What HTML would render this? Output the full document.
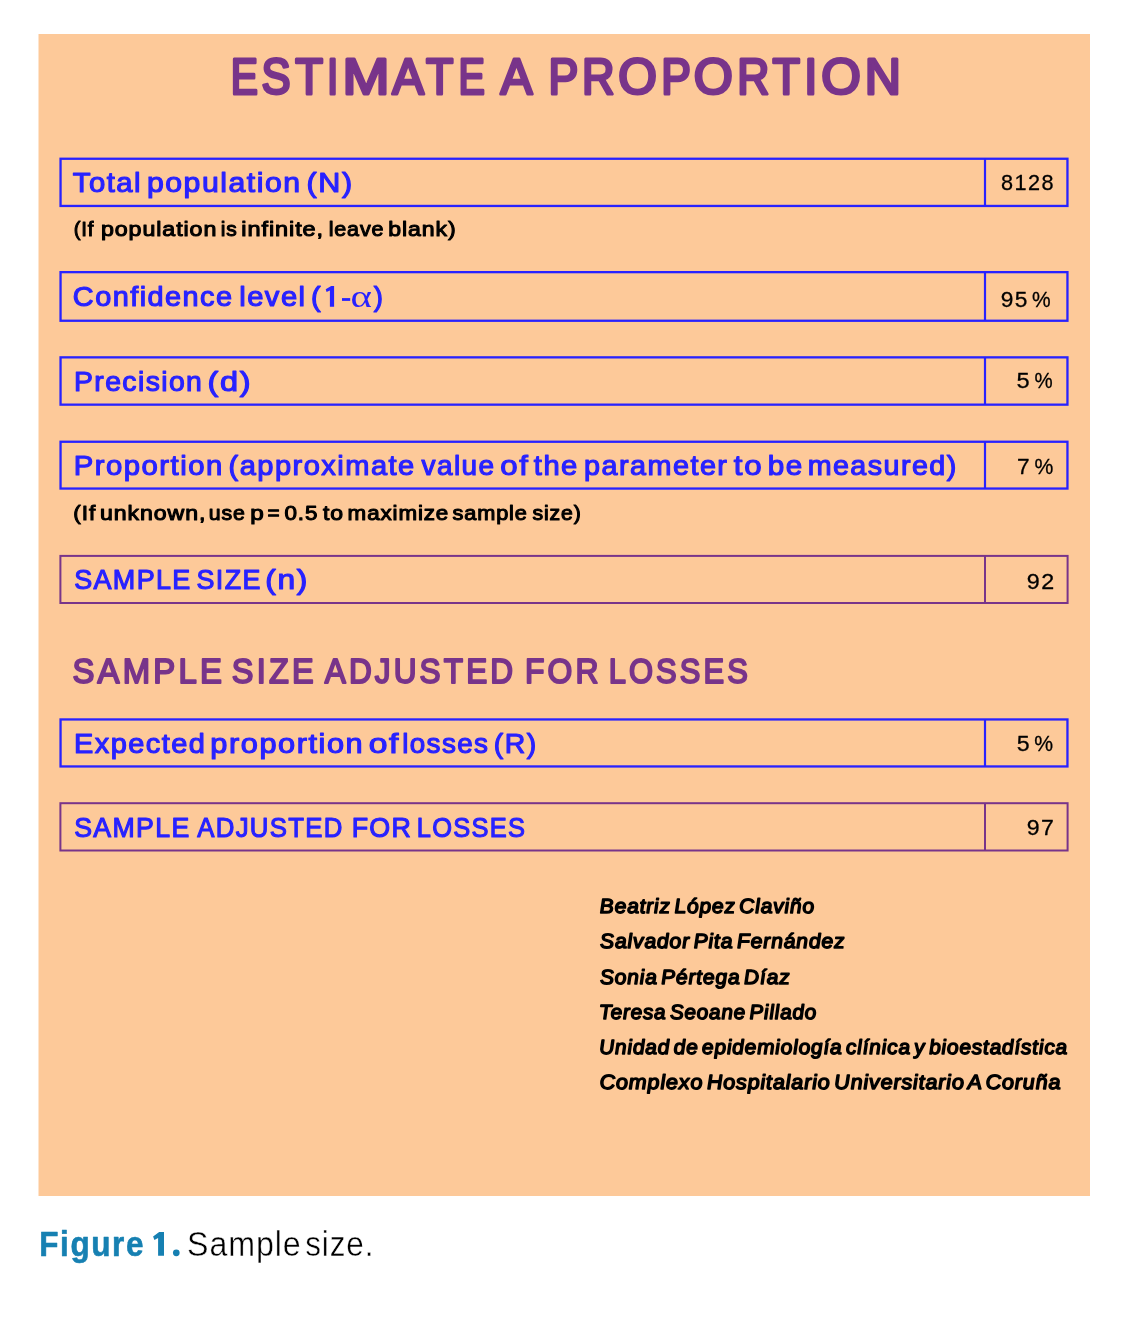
<!DOCTYPE html><html><head><meta charset="utf-8"><style>html,body{margin:0;padding:0;background:#fff;overflow:hidden}svg{display:block;will-change:transform}</style></head><body>
<svg width="1138" height="1326" viewBox="0 0 1138 1326">
<rect x="38.5" y="34" width="1051.5" height="1162" fill="#fdc999"/>
<rect x="60.55" y="158.75" width="1006.90" height="47.20" fill="none" stroke="#2822ff" stroke-width="2.3"/>
<line x1="985" y1="158.75" x2="985" y2="205.95" stroke="#2822ff" stroke-width="2.2"/>
<rect x="60.55" y="272.15" width="1006.90" height="48.60" fill="none" stroke="#2822ff" stroke-width="2.3"/>
<line x1="985" y1="272.15" x2="985" y2="320.75" stroke="#2822ff" stroke-width="2.2"/>
<rect x="60.55" y="357.35" width="1006.90" height="47.30" fill="none" stroke="#2822ff" stroke-width="2.3"/>
<line x1="985" y1="357.35" x2="985" y2="404.65" stroke="#2822ff" stroke-width="2.2"/>
<rect x="60.55" y="441.75" width="1006.90" height="46.80" fill="none" stroke="#2822ff" stroke-width="2.3"/>
<line x1="985" y1="441.75" x2="985" y2="488.55" stroke="#2822ff" stroke-width="2.2"/>
<rect x="60.40" y="555.90" width="1007.20" height="47.10" fill="none" stroke="#78348a" stroke-width="2.0"/>
<line x1="985" y1="555.90" x2="985" y2="603.00" stroke="#78348a" stroke-width="2.0"/>
<rect x="60.55" y="719.45" width="1006.90" height="47.00" fill="none" stroke="#2822ff" stroke-width="2.3"/>
<line x1="985" y1="719.45" x2="985" y2="766.45" stroke="#2822ff" stroke-width="2.2"/>
<rect x="60.40" y="803.20" width="1007.20" height="47.30" fill="none" stroke="#78348a" stroke-width="2.0"/>
<line x1="985" y1="803.20" x2="985" y2="850.50" stroke="#78348a" stroke-width="2.0"/>
<text x="230.81" y="94.40" font-family="Liberation Sans" font-weight="normal" font-style="normal" font-size="49.273" fill="#78348a" stroke="#78348a" stroke-width="3.0" stroke-linejoin="round" word-spacing="0" letter-spacing="0" textLength="27.18" lengthAdjust="spacingAndGlyphs" xml:space="preserve">E</text>
<text x="261.46" y="94.40" font-family="Liberation Sans" font-weight="normal" font-style="normal" font-size="49.273" fill="#78348a" stroke="#78348a" stroke-width="3.0" stroke-linejoin="round" word-spacing="0" letter-spacing="0" textLength="29.06" lengthAdjust="spacingAndGlyphs" xml:space="preserve">S</text>
<text x="295.13" y="94.40" font-family="Liberation Sans" font-weight="normal" font-style="normal" font-size="49.273" fill="#78348a" stroke="#78348a" stroke-width="3.0" stroke-linejoin="round" word-spacing="0" letter-spacing="0" textLength="27.77" lengthAdjust="spacingAndGlyphs" xml:space="preserve">T</text>
<text x="327.05" y="94.40" font-family="Liberation Sans" font-weight="normal" font-style="normal" font-size="49.273" fill="#78348a" stroke="#78348a" stroke-width="3.0" stroke-linejoin="round" word-spacing="0" letter-spacing="0" textLength="11.30" lengthAdjust="spacingAndGlyphs" xml:space="preserve">I</text>
<text x="342.41" y="94.40" font-family="Liberation Sans" font-weight="normal" font-style="normal" font-size="49.273" fill="#78348a" stroke="#78348a" stroke-width="3.0" stroke-linejoin="round" word-spacing="0" letter-spacing="0" textLength="46.96" lengthAdjust="spacingAndGlyphs" xml:space="preserve">M</text>
<text x="392.29" y="94.40" font-family="Liberation Sans" font-weight="normal" font-style="normal" font-size="49.273" fill="#78348a" stroke="#78348a" stroke-width="3.0" stroke-linejoin="round" word-spacing="0" letter-spacing="0" textLength="31.74" lengthAdjust="spacingAndGlyphs" xml:space="preserve">A</text>
<text x="426.05" y="94.40" font-family="Liberation Sans" font-weight="normal" font-style="normal" font-size="49.273" fill="#78348a" stroke="#78348a" stroke-width="3.0" stroke-linejoin="round" word-spacing="0" letter-spacing="0" textLength="27.32" lengthAdjust="spacingAndGlyphs" xml:space="preserve">T</text>
<text x="458.51" y="94.40" font-family="Liberation Sans" font-weight="normal" font-style="normal" font-size="49.273" fill="#78348a" stroke="#78348a" stroke-width="3.0" stroke-linejoin="round" word-spacing="0" letter-spacing="0" textLength="26.38" lengthAdjust="spacingAndGlyphs" xml:space="preserve">E</text>
<text x="500.62" y="94.40" font-family="Liberation Sans" font-weight="normal" font-style="normal" font-size="49.273" fill="#78348a" stroke="#78348a" stroke-width="3.0" stroke-linejoin="round" word-spacing="0" letter-spacing="0" textLength="31.90" lengthAdjust="spacingAndGlyphs" xml:space="preserve">A</text>
<text x="548.60" y="94.40" font-family="Liberation Sans" font-weight="normal" font-style="normal" font-size="49.273" fill="#78348a" stroke="#78348a" stroke-width="3.0" stroke-linejoin="round" word-spacing="0" letter-spacing="0" textLength="29.78" lengthAdjust="spacingAndGlyphs" xml:space="preserve">P</text>
<text x="582.08" y="94.40" font-family="Liberation Sans" font-weight="normal" font-style="normal" font-size="49.273" fill="#78348a" stroke="#78348a" stroke-width="3.0" stroke-linejoin="round" word-spacing="0" letter-spacing="0" textLength="32.47" lengthAdjust="spacingAndGlyphs" xml:space="preserve">R</text>
<text x="618.16" y="94.40" font-family="Liberation Sans" font-weight="normal" font-style="normal" font-size="49.273" fill="#78348a" stroke="#78348a" stroke-width="3.0" stroke-linejoin="round" word-spacing="0" letter-spacing="0" textLength="38.61" lengthAdjust="spacingAndGlyphs" xml:space="preserve">O</text>
<text x="661.18" y="94.40" font-family="Liberation Sans" font-weight="normal" font-style="normal" font-size="49.273" fill="#78348a" stroke="#78348a" stroke-width="3.0" stroke-linejoin="round" word-spacing="0" letter-spacing="0" textLength="29.59" lengthAdjust="spacingAndGlyphs" xml:space="preserve">P</text>
<text x="693.69" y="94.40" font-family="Liberation Sans" font-weight="normal" font-style="normal" font-size="49.273" fill="#78348a" stroke="#78348a" stroke-width="3.0" stroke-linejoin="round" word-spacing="0" letter-spacing="0" textLength="39.05" lengthAdjust="spacingAndGlyphs" xml:space="preserve">O</text>
<text x="737.24" y="94.40" font-family="Liberation Sans" font-weight="normal" font-style="normal" font-size="49.273" fill="#78348a" stroke="#78348a" stroke-width="3.0" stroke-linejoin="round" word-spacing="0" letter-spacing="0" textLength="32.08" lengthAdjust="spacingAndGlyphs" xml:space="preserve">R</text>
<text x="772.53" y="94.40" font-family="Liberation Sans" font-weight="normal" font-style="normal" font-size="49.273" fill="#78348a" stroke="#78348a" stroke-width="3.0" stroke-linejoin="round" word-spacing="0" letter-spacing="0" textLength="27.48" lengthAdjust="spacingAndGlyphs" xml:space="preserve">T</text>
<text x="804.24" y="94.40" font-family="Liberation Sans" font-weight="normal" font-style="normal" font-size="49.273" fill="#78348a" stroke="#78348a" stroke-width="3.0" stroke-linejoin="round" word-spacing="0" letter-spacing="0" textLength="13.05" lengthAdjust="spacingAndGlyphs" xml:space="preserve">I</text>
<text x="821.38" y="94.40" font-family="Liberation Sans" font-weight="normal" font-style="normal" font-size="49.273" fill="#78348a" stroke="#78348a" stroke-width="3.0" stroke-linejoin="round" word-spacing="0" letter-spacing="0" textLength="39.55" lengthAdjust="spacingAndGlyphs" xml:space="preserve">O</text>
<text x="864.79" y="94.40" font-family="Liberation Sans" font-weight="normal" font-style="normal" font-size="49.273" fill="#78348a" stroke="#78348a" stroke-width="3.0" stroke-linejoin="round" word-spacing="0" letter-spacing="0" textLength="36.17" lengthAdjust="spacingAndGlyphs" xml:space="preserve">N</text>
<text x="72.84" y="192.23" font-family="Liberation Sans" font-weight="normal" font-style="normal" font-size="27.834" fill="#2822ff" stroke="#2822ff" stroke-width="1.15" stroke-linejoin="round" word-spacing="0" letter-spacing="1.4" textLength="69.15" lengthAdjust="spacingAndGlyphs" xml:space="preserve">Total</text>
<text x="146.96" y="192.23" font-family="Liberation Sans" font-weight="normal" font-style="normal" font-size="27.834" fill="#2822ff" stroke="#2822ff" stroke-width="1.15" stroke-linejoin="round" word-spacing="0" letter-spacing="1.4" textLength="154.63" lengthAdjust="spacingAndGlyphs" xml:space="preserve">population</text>
<text x="306.58" y="192.23" font-family="Liberation Sans" font-weight="normal" font-style="normal" font-size="27.834" fill="#2822ff" stroke="#2822ff" stroke-width="1.15" stroke-linejoin="round" word-spacing="0" letter-spacing="1.4" textLength="47.03" lengthAdjust="spacingAndGlyphs" xml:space="preserve">(N)</text>
<text x="1000.93" y="189.65" font-family="Liberation Sans" font-weight="normal" font-style="normal" font-size="22.158" fill="#000000" stroke="#000000" stroke-width="0.3" stroke-linejoin="round" word-spacing="0" letter-spacing="1.5" textLength="54.07" lengthAdjust="spacingAndGlyphs" xml:space="preserve">8128</text>
<text x="73.67" y="236.28" font-family="Liberation Sans" font-weight="normal" font-style="normal" font-size="20.567" fill="#000000" stroke="#000000" stroke-width="1.05" stroke-linejoin="round" word-spacing="-1.5" letter-spacing="0.8" textLength="20.58" lengthAdjust="spacingAndGlyphs" xml:space="preserve">(If</text>
<text x="100.96" y="236.28" font-family="Liberation Sans" font-weight="normal" font-style="normal" font-size="20.567" fill="#000000" stroke="#000000" stroke-width="1.05" stroke-linejoin="round" word-spacing="-1.5" letter-spacing="0.8" textLength="116.32" lengthAdjust="spacingAndGlyphs" xml:space="preserve">population</text>
<text x="220.69" y="236.28" font-family="Liberation Sans" font-weight="normal" font-style="normal" font-size="20.567" fill="#000000" stroke="#000000" stroke-width="1.05" stroke-linejoin="round" word-spacing="-1.5" letter-spacing="0.8" textLength="16.79" lengthAdjust="spacingAndGlyphs" xml:space="preserve">is</text>
<text x="241.33" y="236.28" font-family="Liberation Sans" font-weight="normal" font-style="normal" font-size="20.567" fill="#000000" stroke="#000000" stroke-width="1.05" stroke-linejoin="round" word-spacing="-1.5" letter-spacing="0.8" textLength="82.71" lengthAdjust="spacingAndGlyphs" xml:space="preserve">infinite,</text>
<text x="328.68" y="236.28" font-family="Liberation Sans" font-weight="normal" font-style="normal" font-size="20.567" fill="#000000" stroke="#000000" stroke-width="1.05" stroke-linejoin="round" word-spacing="-1.5" letter-spacing="0.8" textLength="55.61" lengthAdjust="spacingAndGlyphs" xml:space="preserve">leave</text>
<text x="388.32" y="236.28" font-family="Liberation Sans" font-weight="normal" font-style="normal" font-size="20.567" fill="#000000" stroke="#000000" stroke-width="1.05" stroke-linejoin="round" word-spacing="-1.5" letter-spacing="0.8" textLength="68.26" lengthAdjust="spacingAndGlyphs" xml:space="preserve">blank)</text>
<text x="72.88" y="306.12" font-family="Liberation Sans" font-weight="normal" font-style="normal" font-size="27.834" fill="#2822ff" stroke="#2822ff" stroke-width="1.15" stroke-linejoin="round" word-spacing="0" letter-spacing="1.4" textLength="160.54" lengthAdjust="spacingAndGlyphs" xml:space="preserve">Confidence</text>
<text x="239.23" y="306.12" font-family="Liberation Sans" font-weight="normal" font-style="normal" font-size="27.834" fill="#2822ff" stroke="#2822ff" stroke-width="1.15" stroke-linejoin="round" word-spacing="0" letter-spacing="1.4" textLength="67.32" lengthAdjust="spacingAndGlyphs" xml:space="preserve">level</text>
<text x="311.10" y="306.12" font-family="Liberation Sans" font-weight="normal" font-style="normal" font-size="27.834" fill="#2822ff" stroke="#2822ff" stroke-width="1.15" stroke-linejoin="round" word-spacing="0" letter-spacing="1.4" textLength="11.11" lengthAdjust="spacingAndGlyphs" xml:space="preserve">(</text>
<text x="350.42" y="306.70" font-family="Liberation Serif" font-weight="normal" font-style="normal" font-size="32.627" fill="#2822ff" word-spacing="0" letter-spacing="0" textLength="21.35" lengthAdjust="spacingAndGlyphs" xml:space="preserve">α</text>
<text x="373.66" y="306.12" font-family="Liberation Sans" font-weight="normal" font-style="normal" font-size="27.834" fill="#2822ff" stroke="#2822ff" stroke-width="1.15" stroke-linejoin="round" word-spacing="0" letter-spacing="1.4" textLength="10.59" lengthAdjust="spacingAndGlyphs" xml:space="preserve">)</text>
<text x="1000.70" y="306.65" font-family="Liberation Sans" font-weight="normal" font-style="normal" font-size="22.446" fill="#000000" stroke="#000000" stroke-width="0.3" stroke-linejoin="round" word-spacing="0" letter-spacing="1.5" textLength="28.29" lengthAdjust="spacingAndGlyphs" xml:space="preserve">95</text>
<text x="1032.01" y="306.65" font-family="Liberation Sans" font-weight="normal" font-style="normal" font-size="22.446" fill="#000000" stroke="#000000" stroke-width="0.3" stroke-linejoin="round" word-spacing="0" letter-spacing="1.5" textLength="20.02" lengthAdjust="spacingAndGlyphs" xml:space="preserve">%</text>
<text x="74.01" y="391.32" font-family="Liberation Sans" font-weight="normal" font-style="normal" font-size="28.125" fill="#2822ff" stroke="#2822ff" stroke-width="1.15" stroke-linejoin="round" word-spacing="0" letter-spacing="1.4" textLength="129.31" lengthAdjust="spacingAndGlyphs" xml:space="preserve">Precision</text>
<text x="207.59" y="391.32" font-family="Liberation Sans" font-weight="normal" font-style="normal" font-size="28.125" fill="#2822ff" stroke="#2822ff" stroke-width="1.15" stroke-linejoin="round" word-spacing="0" letter-spacing="1.4" textLength="44.59" lengthAdjust="spacingAndGlyphs" xml:space="preserve">(d)</text>
<text x="1016.44" y="388.45" font-family="Liberation Sans" font-weight="normal" font-style="normal" font-size="22.878" fill="#000000" stroke="#000000" stroke-width="0.3" stroke-linejoin="round" word-spacing="0" letter-spacing="1.5" textLength="14.68" lengthAdjust="spacingAndGlyphs" xml:space="preserve">5</text>
<text x="1034.56" y="388.45" font-family="Liberation Sans" font-weight="normal" font-style="normal" font-size="22.878" fill="#000000" stroke="#000000" stroke-width="0.3" stroke-linejoin="round" word-spacing="0" letter-spacing="1.5" textLength="19.51" lengthAdjust="spacingAndGlyphs" xml:space="preserve">%</text>
<text x="73.84" y="475.23" font-family="Liberation Sans" font-weight="normal" font-style="normal" font-size="27.834" fill="#2822ff" stroke="#2822ff" stroke-width="1.15" stroke-linejoin="round" word-spacing="0" letter-spacing="1.4" textLength="149.92" lengthAdjust="spacingAndGlyphs" xml:space="preserve">Proportion</text>
<text x="228.56" y="475.23" font-family="Liberation Sans" font-weight="normal" font-style="normal" font-size="27.834" fill="#2822ff" stroke="#2822ff" stroke-width="1.15" stroke-linejoin="round" word-spacing="0" letter-spacing="1.4" textLength="187.18" lengthAdjust="spacingAndGlyphs" xml:space="preserve">(approximate</text>
<text x="421.53" y="475.23" font-family="Liberation Sans" font-weight="normal" font-style="normal" font-size="27.834" fill="#2822ff" stroke="#2822ff" stroke-width="1.15" stroke-linejoin="round" word-spacing="0" letter-spacing="1.4" textLength="73.98" lengthAdjust="spacingAndGlyphs" xml:space="preserve">value</text>
<text x="500.28" y="475.23" font-family="Liberation Sans" font-weight="normal" font-style="normal" font-size="27.834" fill="#2822ff" stroke="#2822ff" stroke-width="1.15" stroke-linejoin="round" word-spacing="0" letter-spacing="1.4" textLength="29.13" lengthAdjust="spacingAndGlyphs" xml:space="preserve">of</text>
<text x="533.85" y="475.23" font-family="Liberation Sans" font-weight="normal" font-style="normal" font-size="27.834" fill="#2822ff" stroke="#2822ff" stroke-width="1.15" stroke-linejoin="round" word-spacing="0" letter-spacing="1.4" textLength="44.98" lengthAdjust="spacingAndGlyphs" xml:space="preserve">the</text>
<text x="584.13" y="475.23" font-family="Liberation Sans" font-weight="normal" font-style="normal" font-size="27.834" fill="#2822ff" stroke="#2822ff" stroke-width="1.15" stroke-linejoin="round" word-spacing="0" letter-spacing="1.4" textLength="144.26" lengthAdjust="spacingAndGlyphs" xml:space="preserve">parameter</text>
<text x="733.88" y="475.23" font-family="Liberation Sans" font-weight="normal" font-style="normal" font-size="27.834" fill="#2822ff" stroke="#2822ff" stroke-width="1.15" stroke-linejoin="round" word-spacing="0" letter-spacing="1.4" textLength="29.22" lengthAdjust="spacingAndGlyphs" xml:space="preserve">to</text>
<text x="767.68" y="475.23" font-family="Liberation Sans" font-weight="normal" font-style="normal" font-size="27.834" fill="#2822ff" stroke="#2822ff" stroke-width="1.15" stroke-linejoin="round" word-spacing="0" letter-spacing="1.4" textLength="35.94" lengthAdjust="spacingAndGlyphs" xml:space="preserve">be</text>
<text x="807.65" y="475.23" font-family="Liberation Sans" font-weight="normal" font-style="normal" font-size="27.834" fill="#2822ff" stroke="#2822ff" stroke-width="1.15" stroke-linejoin="round" word-spacing="0" letter-spacing="1.4" textLength="150.04" lengthAdjust="spacingAndGlyphs" xml:space="preserve">measured)</text>
<text x="1016.90" y="473.85" font-family="Liberation Sans" font-weight="normal" font-style="normal" font-size="22.965" fill="#000000" stroke="#000000" stroke-width="0.3" stroke-linejoin="round" word-spacing="0" letter-spacing="1.5" textLength="14.10" lengthAdjust="spacingAndGlyphs" xml:space="preserve">7</text>
<text x="1034.38" y="473.85" font-family="Liberation Sans" font-weight="normal" font-style="normal" font-size="22.965" fill="#000000" stroke="#000000" stroke-width="0.3" stroke-linejoin="round" word-spacing="0" letter-spacing="1.5" textLength="20.24" lengthAdjust="spacingAndGlyphs" xml:space="preserve">%</text>
<text x="73.34" y="520.08" font-family="Liberation Sans" font-weight="normal" font-style="normal" font-size="19.985" fill="#000000" stroke="#000000" stroke-width="1.05" stroke-linejoin="round" word-spacing="-1.5" letter-spacing="0.8" textLength="22.84" lengthAdjust="spacingAndGlyphs" xml:space="preserve">(If</text>
<text x="100.10" y="520.08" font-family="Liberation Sans" font-weight="normal" font-style="normal" font-size="19.985" fill="#000000" stroke="#000000" stroke-width="1.05" stroke-linejoin="round" word-spacing="-1.5" letter-spacing="0.8" textLength="106.13" lengthAdjust="spacingAndGlyphs" xml:space="preserve">unknown,</text>
<text x="208.80" y="520.08" font-family="Liberation Sans" font-weight="normal" font-style="normal" font-size="19.985" fill="#000000" stroke="#000000" stroke-width="1.05" stroke-linejoin="round" word-spacing="-1.5" letter-spacing="0.8" textLength="36.88" lengthAdjust="spacingAndGlyphs" xml:space="preserve">use</text>
<text x="250.23" y="520.08" font-family="Liberation Sans" font-weight="normal" font-style="normal" font-size="19.985" fill="#000000" stroke="#000000" stroke-width="1.05" stroke-linejoin="round" word-spacing="-1.5" letter-spacing="0.8" textLength="14.45" lengthAdjust="spacingAndGlyphs" xml:space="preserve">p</text>
<text x="267.40" y="520.08" font-family="Liberation Sans" font-weight="normal" font-style="normal" font-size="19.985" fill="#000000" stroke="#000000" stroke-width="1.05" stroke-linejoin="round" word-spacing="-1.5" letter-spacing="0.8" textLength="12.93" lengthAdjust="spacingAndGlyphs" xml:space="preserve">=</text>
<text x="284.52" y="520.08" font-family="Liberation Sans" font-weight="normal" font-style="normal" font-size="19.985" fill="#000000" stroke="#000000" stroke-width="1.05" stroke-linejoin="round" word-spacing="-1.5" letter-spacing="0.8" textLength="33.83" lengthAdjust="spacingAndGlyphs" xml:space="preserve">0.5</text>
<text x="323.01" y="520.08" font-family="Liberation Sans" font-weight="normal" font-style="normal" font-size="19.985" fill="#000000" stroke="#000000" stroke-width="1.05" stroke-linejoin="round" word-spacing="-1.5" letter-spacing="0.8" textLength="20.99" lengthAdjust="spacingAndGlyphs" xml:space="preserve">to</text>
<text x="347.63" y="520.08" font-family="Liberation Sans" font-weight="normal" font-style="normal" font-size="19.985" fill="#000000" stroke="#000000" stroke-width="1.05" stroke-linejoin="round" word-spacing="-1.5" letter-spacing="0.8" textLength="101.59" lengthAdjust="spacingAndGlyphs" xml:space="preserve">maximize</text>
<text x="452.47" y="520.08" font-family="Liberation Sans" font-weight="normal" font-style="normal" font-size="19.985" fill="#000000" stroke="#000000" stroke-width="1.05" stroke-linejoin="round" word-spacing="-1.5" letter-spacing="0.8" textLength="75.27" lengthAdjust="spacingAndGlyphs" xml:space="preserve">sample</text>
<text x="532.49" y="520.08" font-family="Liberation Sans" font-weight="normal" font-style="normal" font-size="19.985" fill="#000000" stroke="#000000" stroke-width="1.05" stroke-linejoin="round" word-spacing="-1.5" letter-spacing="0.8" textLength="49.12" lengthAdjust="spacingAndGlyphs" xml:space="preserve">size)</text>
<text x="74.15" y="589.32" font-family="Liberation Sans" font-weight="normal" font-style="normal" font-size="27.689" fill="#2822ff" stroke="#2822ff" stroke-width="1.15" stroke-linejoin="round" word-spacing="0" letter-spacing="1.4" textLength="117.56" lengthAdjust="spacingAndGlyphs" xml:space="preserve">SAMPLE</text>
<text x="196.54" y="589.32" font-family="Liberation Sans" font-weight="normal" font-style="normal" font-size="27.689" fill="#2822ff" stroke="#2822ff" stroke-width="1.15" stroke-linejoin="round" word-spacing="0" letter-spacing="1.4" textLength="65.22" lengthAdjust="spacingAndGlyphs" xml:space="preserve">SIZE</text>
<text x="265.38" y="589.32" font-family="Liberation Sans" font-weight="normal" font-style="normal" font-size="27.689" fill="#2822ff" stroke="#2822ff" stroke-width="1.15" stroke-linejoin="round" word-spacing="0" letter-spacing="1.4" textLength="43.65" lengthAdjust="spacingAndGlyphs" xml:space="preserve">(n)</text>
<text x="1026.78" y="588.85" font-family="Liberation Sans" font-weight="normal" font-style="normal" font-size="22.063" fill="#000000" stroke="#000000" stroke-width="0.3" stroke-linejoin="round" word-spacing="0" letter-spacing="1.5" textLength="29.07" lengthAdjust="spacingAndGlyphs" xml:space="preserve">92</text>
<text x="72.41" y="682.70" font-family="Liberation Sans" font-weight="normal" font-style="normal" font-size="35.465" fill="#78348a" stroke="#78348a" stroke-width="2.0" stroke-linejoin="round" word-spacing="0" letter-spacing="3.5" textLength="152.81" lengthAdjust="spacingAndGlyphs" xml:space="preserve">SAMPLE</text>
<text x="231.84" y="682.70" font-family="Liberation Sans" font-weight="normal" font-style="normal" font-size="35.465" fill="#78348a" stroke="#78348a" stroke-width="2.0" stroke-linejoin="round" word-spacing="0" letter-spacing="3.5" textLength="84.92" lengthAdjust="spacingAndGlyphs" xml:space="preserve">SIZE</text>
<text x="324.80" y="682.70" font-family="Liberation Sans" font-weight="normal" font-style="normal" font-size="35.465" fill="#78348a" stroke="#78348a" stroke-width="2.0" stroke-linejoin="round" word-spacing="0" letter-spacing="3.5" textLength="191.38" lengthAdjust="spacingAndGlyphs" xml:space="preserve">ADJUSTED</text>
<text x="524.93" y="682.70" font-family="Liberation Sans" font-weight="normal" font-style="normal" font-size="35.465" fill="#78348a" stroke="#78348a" stroke-width="2.0" stroke-linejoin="round" word-spacing="0" letter-spacing="3.5" textLength="76.66" lengthAdjust="spacingAndGlyphs" xml:space="preserve">FOR</text>
<text x="608.76" y="682.70" font-family="Liberation Sans" font-weight="normal" font-style="normal" font-size="35.465" fill="#78348a" stroke="#78348a" stroke-width="2.0" stroke-linejoin="round" word-spacing="0" letter-spacing="3.5" textLength="142.06" lengthAdjust="spacingAndGlyphs" xml:space="preserve">LOSSES</text>
<text x="73.97" y="753.22" font-family="Liberation Sans" font-weight="normal" font-style="normal" font-size="27.689" fill="#2822ff" stroke="#2822ff" stroke-width="1.15" stroke-linejoin="round" word-spacing="0" letter-spacing="1.4" textLength="132.38" lengthAdjust="spacingAndGlyphs" xml:space="preserve">Expected</text>
<text x="210.38" y="753.22" font-family="Liberation Sans" font-weight="normal" font-style="normal" font-size="27.689" fill="#2822ff" stroke="#2822ff" stroke-width="1.15" stroke-linejoin="round" word-spacing="0" letter-spacing="1.4" textLength="153.82" lengthAdjust="spacingAndGlyphs" xml:space="preserve">proportion</text>
<text x="368.70" y="753.22" font-family="Liberation Sans" font-weight="normal" font-style="normal" font-size="27.689" fill="#2822ff" stroke="#2822ff" stroke-width="1.15" stroke-linejoin="round" word-spacing="0" letter-spacing="1.4" textLength="31.39" lengthAdjust="spacingAndGlyphs" xml:space="preserve">of</text>
<text x="402.15" y="753.22" font-family="Liberation Sans" font-weight="normal" font-style="normal" font-size="27.689" fill="#2822ff" stroke="#2822ff" stroke-width="1.15" stroke-linejoin="round" word-spacing="0" letter-spacing="1.4" textLength="87.28" lengthAdjust="spacingAndGlyphs" xml:space="preserve">losses</text>
<text x="493.89" y="753.22" font-family="Liberation Sans" font-weight="normal" font-style="normal" font-size="27.689" fill="#2822ff" stroke="#2822ff" stroke-width="1.15" stroke-linejoin="round" word-spacing="0" letter-spacing="1.4" textLength="43.79" lengthAdjust="spacingAndGlyphs" xml:space="preserve">(R)</text>
<text x="1016.73" y="751.45" font-family="Liberation Sans" font-weight="normal" font-style="normal" font-size="21.583" fill="#000000" stroke="#000000" stroke-width="0.3" stroke-linejoin="round" word-spacing="0" letter-spacing="1.5" textLength="14.49" lengthAdjust="spacingAndGlyphs" xml:space="preserve">5</text>
<text x="1034.20" y="751.45" font-family="Liberation Sans" font-weight="normal" font-style="normal" font-size="21.583" fill="#000000" stroke="#000000" stroke-width="0.3" stroke-linejoin="round" word-spacing="0" letter-spacing="1.5" textLength="20.28" lengthAdjust="spacingAndGlyphs" xml:space="preserve">%</text>
<text x="74.17" y="837.32" font-family="Liberation Sans" font-weight="normal" font-style="normal" font-size="27.689" fill="#2822ff" stroke="#2822ff" stroke-width="1.15" stroke-linejoin="round" word-spacing="0" letter-spacing="1.4" textLength="116.46" lengthAdjust="spacingAndGlyphs" xml:space="preserve">SAMPLE</text>
<text x="197.31" y="837.32" font-family="Liberation Sans" font-weight="normal" font-style="normal" font-size="27.689" fill="#2822ff" stroke="#2822ff" stroke-width="1.15" stroke-linejoin="round" word-spacing="0" letter-spacing="1.4" textLength="146.39" lengthAdjust="spacingAndGlyphs" xml:space="preserve">ADJUSTED</text>
<text x="351.64" y="837.32" font-family="Liberation Sans" font-weight="normal" font-style="normal" font-size="27.689" fill="#2822ff" stroke="#2822ff" stroke-width="1.15" stroke-linejoin="round" word-spacing="0" letter-spacing="1.4" textLength="60.71" lengthAdjust="spacingAndGlyphs" xml:space="preserve">FOR</text>
<text x="416.78" y="837.32" font-family="Liberation Sans" font-weight="normal" font-style="normal" font-size="27.689" fill="#2822ff" stroke="#2822ff" stroke-width="1.15" stroke-linejoin="round" word-spacing="0" letter-spacing="1.4" textLength="109.54" lengthAdjust="spacingAndGlyphs" xml:space="preserve">LOSSES</text>
<text x="1026.65" y="834.55" font-family="Liberation Sans" font-weight="normal" font-style="normal" font-size="21.583" fill="#000000" stroke="#000000" stroke-width="0.3" stroke-linejoin="round" word-spacing="0" letter-spacing="1.5" textLength="28.90" lengthAdjust="spacingAndGlyphs" xml:space="preserve">97</text>
<text transform="translate(0 912.88) skewX(3) translate(0 -912.88)" x="600.11" y="912.88" font-family="Liberation Sans" font-weight="normal" font-style="italic" font-size="20.567" fill="#000000" stroke="#000000" stroke-width="1.45" stroke-linejoin="round" word-spacing="-3.0" letter-spacing="0.8" textLength="215.19" lengthAdjust="spacingAndGlyphs" xml:space="preserve">Beatriz López Claviño</text>
<text transform="translate(0 947.98) skewX(3) translate(0 -947.98)" x="600.25" y="947.98" font-family="Liberation Sans" font-weight="normal" font-style="italic" font-size="20.567" fill="#000000" stroke="#000000" stroke-width="1.45" stroke-linejoin="round" word-spacing="-3.0" letter-spacing="0.8" textLength="245.47" lengthAdjust="spacingAndGlyphs" xml:space="preserve">Salvador Pita Fernández</text>
<text transform="translate(0 983.77) skewX(3) translate(0 -983.77)" x="600.23" y="983.77" font-family="Liberation Sans" font-weight="normal" font-style="italic" font-size="20.567" fill="#000000" stroke="#000000" stroke-width="1.45" stroke-linejoin="round" word-spacing="-3.0" letter-spacing="0.8" textLength="190.46" lengthAdjust="spacingAndGlyphs" xml:space="preserve">Sonia Pértega Díaz</text>
<text transform="translate(0 1018.98) skewX(3) translate(0 -1018.98)" x="599.43" y="1018.98" font-family="Liberation Sans" font-weight="normal" font-style="italic" font-size="20.567" fill="#000000" stroke="#000000" stroke-width="1.45" stroke-linejoin="round" word-spacing="-3.0" letter-spacing="0.8" textLength="217.97" lengthAdjust="spacingAndGlyphs" xml:space="preserve">Teresa Seoane Pillado</text>
<text transform="translate(0 1054.08) skewX(3) translate(0 -1054.08)" x="599.47" y="1054.08" font-family="Liberation Sans" font-weight="normal" font-style="italic" font-size="20.567" fill="#000000" stroke="#000000" stroke-width="1.45" stroke-linejoin="round" word-spacing="-3.0" letter-spacing="0.8" textLength="468.82" lengthAdjust="spacingAndGlyphs" xml:space="preserve">Unidad de epidemiología clínica y bioestadística</text>
<text transform="translate(0 1088.78) skewX(3) translate(0 -1088.78)" x="599.89" y="1088.78" font-family="Liberation Sans" font-weight="normal" font-style="italic" font-size="20.567" fill="#000000" stroke="#000000" stroke-width="1.45" stroke-linejoin="round" word-spacing="-3.0" letter-spacing="0.8" textLength="461.65" lengthAdjust="spacingAndGlyphs" xml:space="preserve">Complexo Hospitalario Universitario A Coruña</text>
<text x="39.15" y="1255.90" font-family="Liberation Sans" font-weight="bold" font-style="normal" font-size="34.302" fill="#1680b2" stroke="#1680b2" stroke-width="0.6" stroke-linejoin="round" word-spacing="0" letter-spacing="1.8" textLength="106.02" lengthAdjust="spacingAndGlyphs" xml:space="preserve">Figure</text>
<text x="187.05" y="1256.22" font-family="Liberation Sans" font-weight="normal" font-style="normal" font-size="35.102" fill="#000000" stroke="#ffffff" stroke-width="0.45" stroke-linejoin="round" word-spacing="0" letter-spacing="1.0" textLength="114.64" lengthAdjust="spacingAndGlyphs" xml:space="preserve">Sample</text>
<text x="305.25" y="1256.22" font-family="Liberation Sans" font-weight="normal" font-style="normal" font-size="35.102" fill="#000000" stroke="#ffffff" stroke-width="0.45" stroke-linejoin="round" word-spacing="0" letter-spacing="1.0" textLength="69.14" lengthAdjust="spacingAndGlyphs" xml:space="preserve">size.</text>
<path d="M331.2 286.1 L334.1 286.1 L334.1 306.8 L329.9 306.8 L329.9 290.4 L326.6 291.9 L325.7 289.2 Z" fill="#2822ff"/>
<rect x="342" y="298.1" width="8.2" height="2.8" fill="#2822ff"/>
<path d="M159.2 1232 L164 1232 L164 1255.8 L158.1 1255.8 L158.1 1237.9 L154.4 1240 L153.1 1236.4 Z" fill="#1680b2"/>
<circle cx="176.3" cy="1252.8" r="3.35" fill="#1680b2"/>
</svg>
</body></html>
